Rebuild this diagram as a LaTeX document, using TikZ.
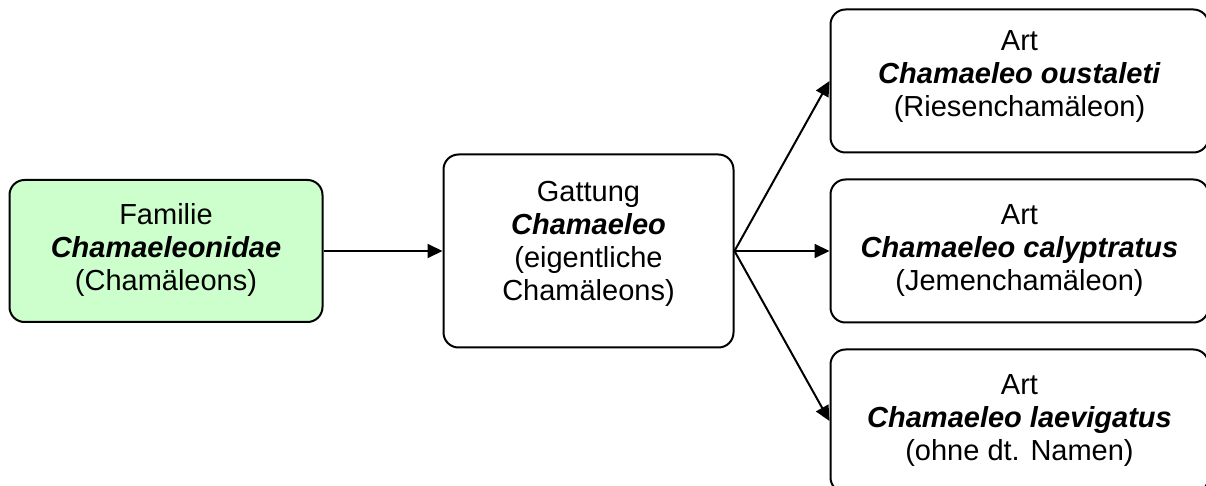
\documentclass[tikz,border=0pt]{standalone}
\usepackage{fontspec}
\setmainfont{Liberation Sans}
\usepackage{xcolor}
\usetikzlibrary{arrows.meta,positioning}

\definecolor{famgreen}{HTML}{CCFFCC}
% extra room under the last line, so the text sits a little higher
\newcommand{\lift}[1]{\\[#1]\mbox{}}

\begin{document}
\begin{tikzpicture}[
  x=0.5pt, y=-0.5pt,
  box/.style={draw,line width=1pt,rounded corners=7.5pt,align=center,inner sep=2pt,
    font=\fontsize{14.5}{16.5}\selectfont},
  fambox/.style={box,fill=famgreen,minimum width=156.5pt,minimum height=71pt},
  gatbox/.style={box,fill=white,minimum width=145pt,minimum height=96.5pt},
  artbox/.style={box,fill=white,minimum width=189pt,minimum height=71.5pt},
  arrow/.style={-{Triangle[length=7.5pt,width=7pt]},line width=1pt}
]
\useasboundingbox (0,0) rectangle (1206,486);
\node[fambox] (fam) at (166,251) {Familie\\\textbf{\textit{Chamaeleonidae}}\\(Chamäleons)\lift{-12.5pt}};
\node[gatbox,right=59.5pt of fam] (gat) {Gattung\\\textbf{\textit{Chamaeleo}}\\(eigentliche\\Chamäleons)\lift{-6.5pt}};
\node[artbox,right=47.5pt of gat] (art2) {Art\\\textbf{\textit{Chamaeleo calyptratus}}\\(Jemenchamäleon)};
\node[artbox,above=12.5pt of art2] (art1) {Art\\\textbf{\textit{Chamaeleo oustaleti}}\\(Riesenchamäleon)\lift{-9.5pt}};
\node[artbox,below=12.5pt of art2] (art3) {Art\\\textbf{\textit{Chamaeleo laevigatus}}\\(ohne dt. Namen)};
\draw[arrow] (fam) -- (gat);
\draw[arrow] (gat.east) -- (art1.west);
\draw[arrow] (gat.east) -- (art2.west);
\draw[arrow] (gat.east) -- (art3.west);
\end{tikzpicture}
\end{document}
